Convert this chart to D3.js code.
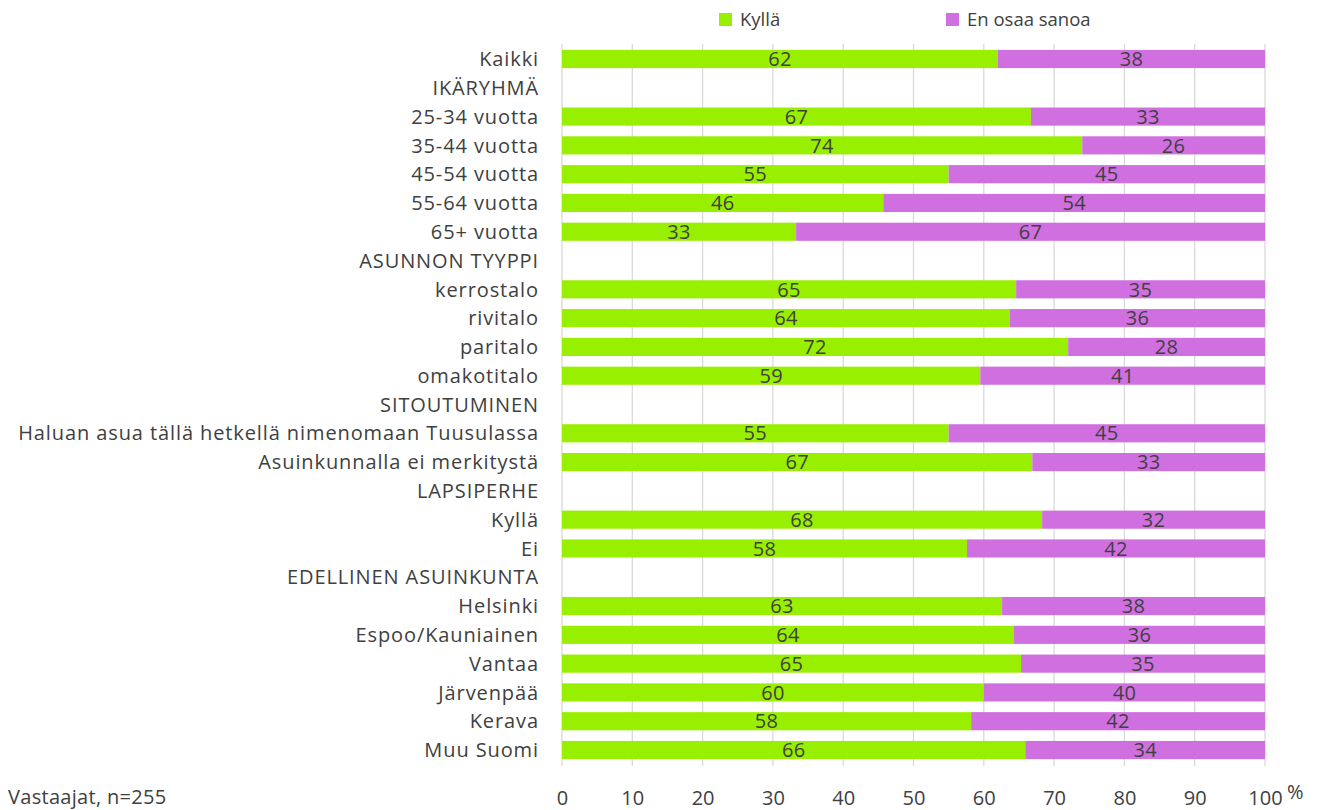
<!DOCTYPE html>
<html>
<head>
<meta charset="utf-8">
<script src="https://cdn.jsdelivr.net/npm/d3@7"></script>
<style>
  html, body { margin: 0; padding: 0; background: #fff; }
  svg text { font-family: "Open Sans", "Noto Sans", sans-serif; fill: #404040; }
</style>
</head>
<body>
<svg id="chart" width="1323" height="810"></svg>
<script>
// ---- data ----
const categories = [
  "Kaikki", "IKÄRYHMÄ", "25-34 vuotta", "35-44 vuotta", "45-54 vuotta", "55-64 vuotta", "65+ vuotta",
  "ASUNNON TYYPPI", "kerrostalo", "rivitalo", "paritalo", "omakotitalo",
  "SITOUTUMINEN", "Haluan asua tällä hetkellä nimenomaan Tuusulassa", "Asuinkunnalla ei merkitystä",
  "LAPSIPERHE", "Kyllä", "Ei",
  "EDELLINEN ASUINKUNTA", "Helsinki", "Espoo/Kauniainen", "Vantaa", "Järvenpää", "Kerava", "Muu Suomi"
];
// share of "Kyllä" (bar length, %), null for header rows
const kyllaValues = [62.0, null, 66.7, 74.0, 55.0, 45.7, 33.3,
  null, 64.6, 63.7, 72.0, 59.5,
  null, 55.0, 66.9,
  null, 68.3, 57.6,
  null, 62.6, 64.3, 65.3, 60.0, 58.2, 65.9];
// share of "En osaa sanoa" (bar length, %)
const eosValues = [38.0, null, 33.3, 26.0, 45.0, 54.3, 66.7,
  null, 35.4, 36.3, 28.0, 40.5,
  null, 45.0, 33.1,
  null, 31.7, 42.4,
  null, 37.4, 35.7, 34.7, 40.0, 41.8, 34.1];
// printed data labels
const kyllaLabels = [62, null, 67, 74, 55, 46, 33, null, 65, 64, 72, 59, null, 55, 67, null, 68, 58, null, 63, 64, 65, 60, 58, 66];
const eosLabels   = [38, null, 33, 26, 45, 54, 67, null, 35, 36, 28, 41, null, 45, 33, null, 32, 42, null, 38, 36, 35, 40, 42, 34];
const seriesNames = ["Kyllä", "En osaa sanoa"];
const xTicks = [0, 10, 20, 30, 40, 50, 60, 70, 80, 90, 100];
const footnote = "Vastaajat, n=255";

// ---- layout ----
const colors = ["#98EF00", "#D06FE0"];
const svg = d3.select("#chart");
const x = d3.scaleLinear().domain([0, 100]).range([562, 1265]);
const y = d3.scaleBand().domain(categories).range([44.6, 764.4]).paddingInner(0.37).paddingOuter(0.185);

// gridlines
svg.append("g").selectAll("line").data(xTicks).join("line")
  .attr("x1", d => x(d)).attr("x2", d => x(d))
  .attr("y1", 44).attr("y2", 766)
  .attr("stroke", "#d9d9d9").attr("stroke-width", 1.3);

const rows = categories.map((c, i) => ({c, k: kyllaValues[i], e: eosValues[i], kl: kyllaLabels[i], el: eosLabels[i]}))
  .filter(r => r.k !== null);

const g = svg.append("g");
rows.forEach(r => {
  const segs = [
    {x0: 0, x1: r.k, col: colors[0], lab: r.kl},
    {x0: r.k, x1: r.k + r.e, col: colors[1], lab: r.el}
  ];
  segs.forEach(s => {
    g.append("rect")
      .attr("x", x(s.x0)).attr("width", x(s.x1) - x(s.x0))
      .attr("y", y(r.c)).attr("height", y.bandwidth())
      .attr("fill", s.col);
    g.append("text")
      .attr("x", (x(s.x0) + x(s.x1)) / 2)
      .attr("y", y(r.c) + y.bandwidth() / 2)
      .attr("dy", "0.36em")
      .attr("text-anchor", "middle")
      .attr("font-size", 20)
      .attr("letter-spacing", "0.3px")
      .text(s.lab);
  });
});

// category axis labels
svg.append("g").selectAll("text").data(categories).join("text")
  .attr("x", 539)
  .attr("y", d => y(d) + y.bandwidth() / 2)
  .attr("dy", "0.36em")
  .attr("text-anchor", "end")
  .attr("font-size", 20)
  .attr("letter-spacing", "0.9px")
  .text(d => d);

// x axis tick labels
const xAxis = d3.axisBottom(x).tickValues(xTicks).tickSize(0).tickPadding(0);
const xa = svg.append("g").attr("transform", "translate(0,790)").call(xAxis);
xa.select(".domain").remove();
xa.selectAll("text").attr("font-size", 20).attr("font-family", "Open Sans").attr("fill", "#404040").attr("dy", "0.75em");

svg.append("text").attr("x", 1287).attr("y", 799).attr("font-size", 20).text("%");
svg.append("text").attr("x", 8).attr("y", 804).attr("font-size", 20).attr("letter-spacing", "0.3px").text(footnote);

// legend
const legend = svg.append("g");
const legX = [719, 946];
seriesNames.forEach((n, i) => {
  legend.append("rect").attr("x", legX[i]).attr("y", 13).attr("width", 13).attr("height", 13).attr("fill", colors[i]);
  legend.append("text").attr("x", legX[i] + 21).attr("y", 19.5).attr("dy", "0.36em").attr("font-size", 18.5).text(n);
});
</script>
</body>
</html>
